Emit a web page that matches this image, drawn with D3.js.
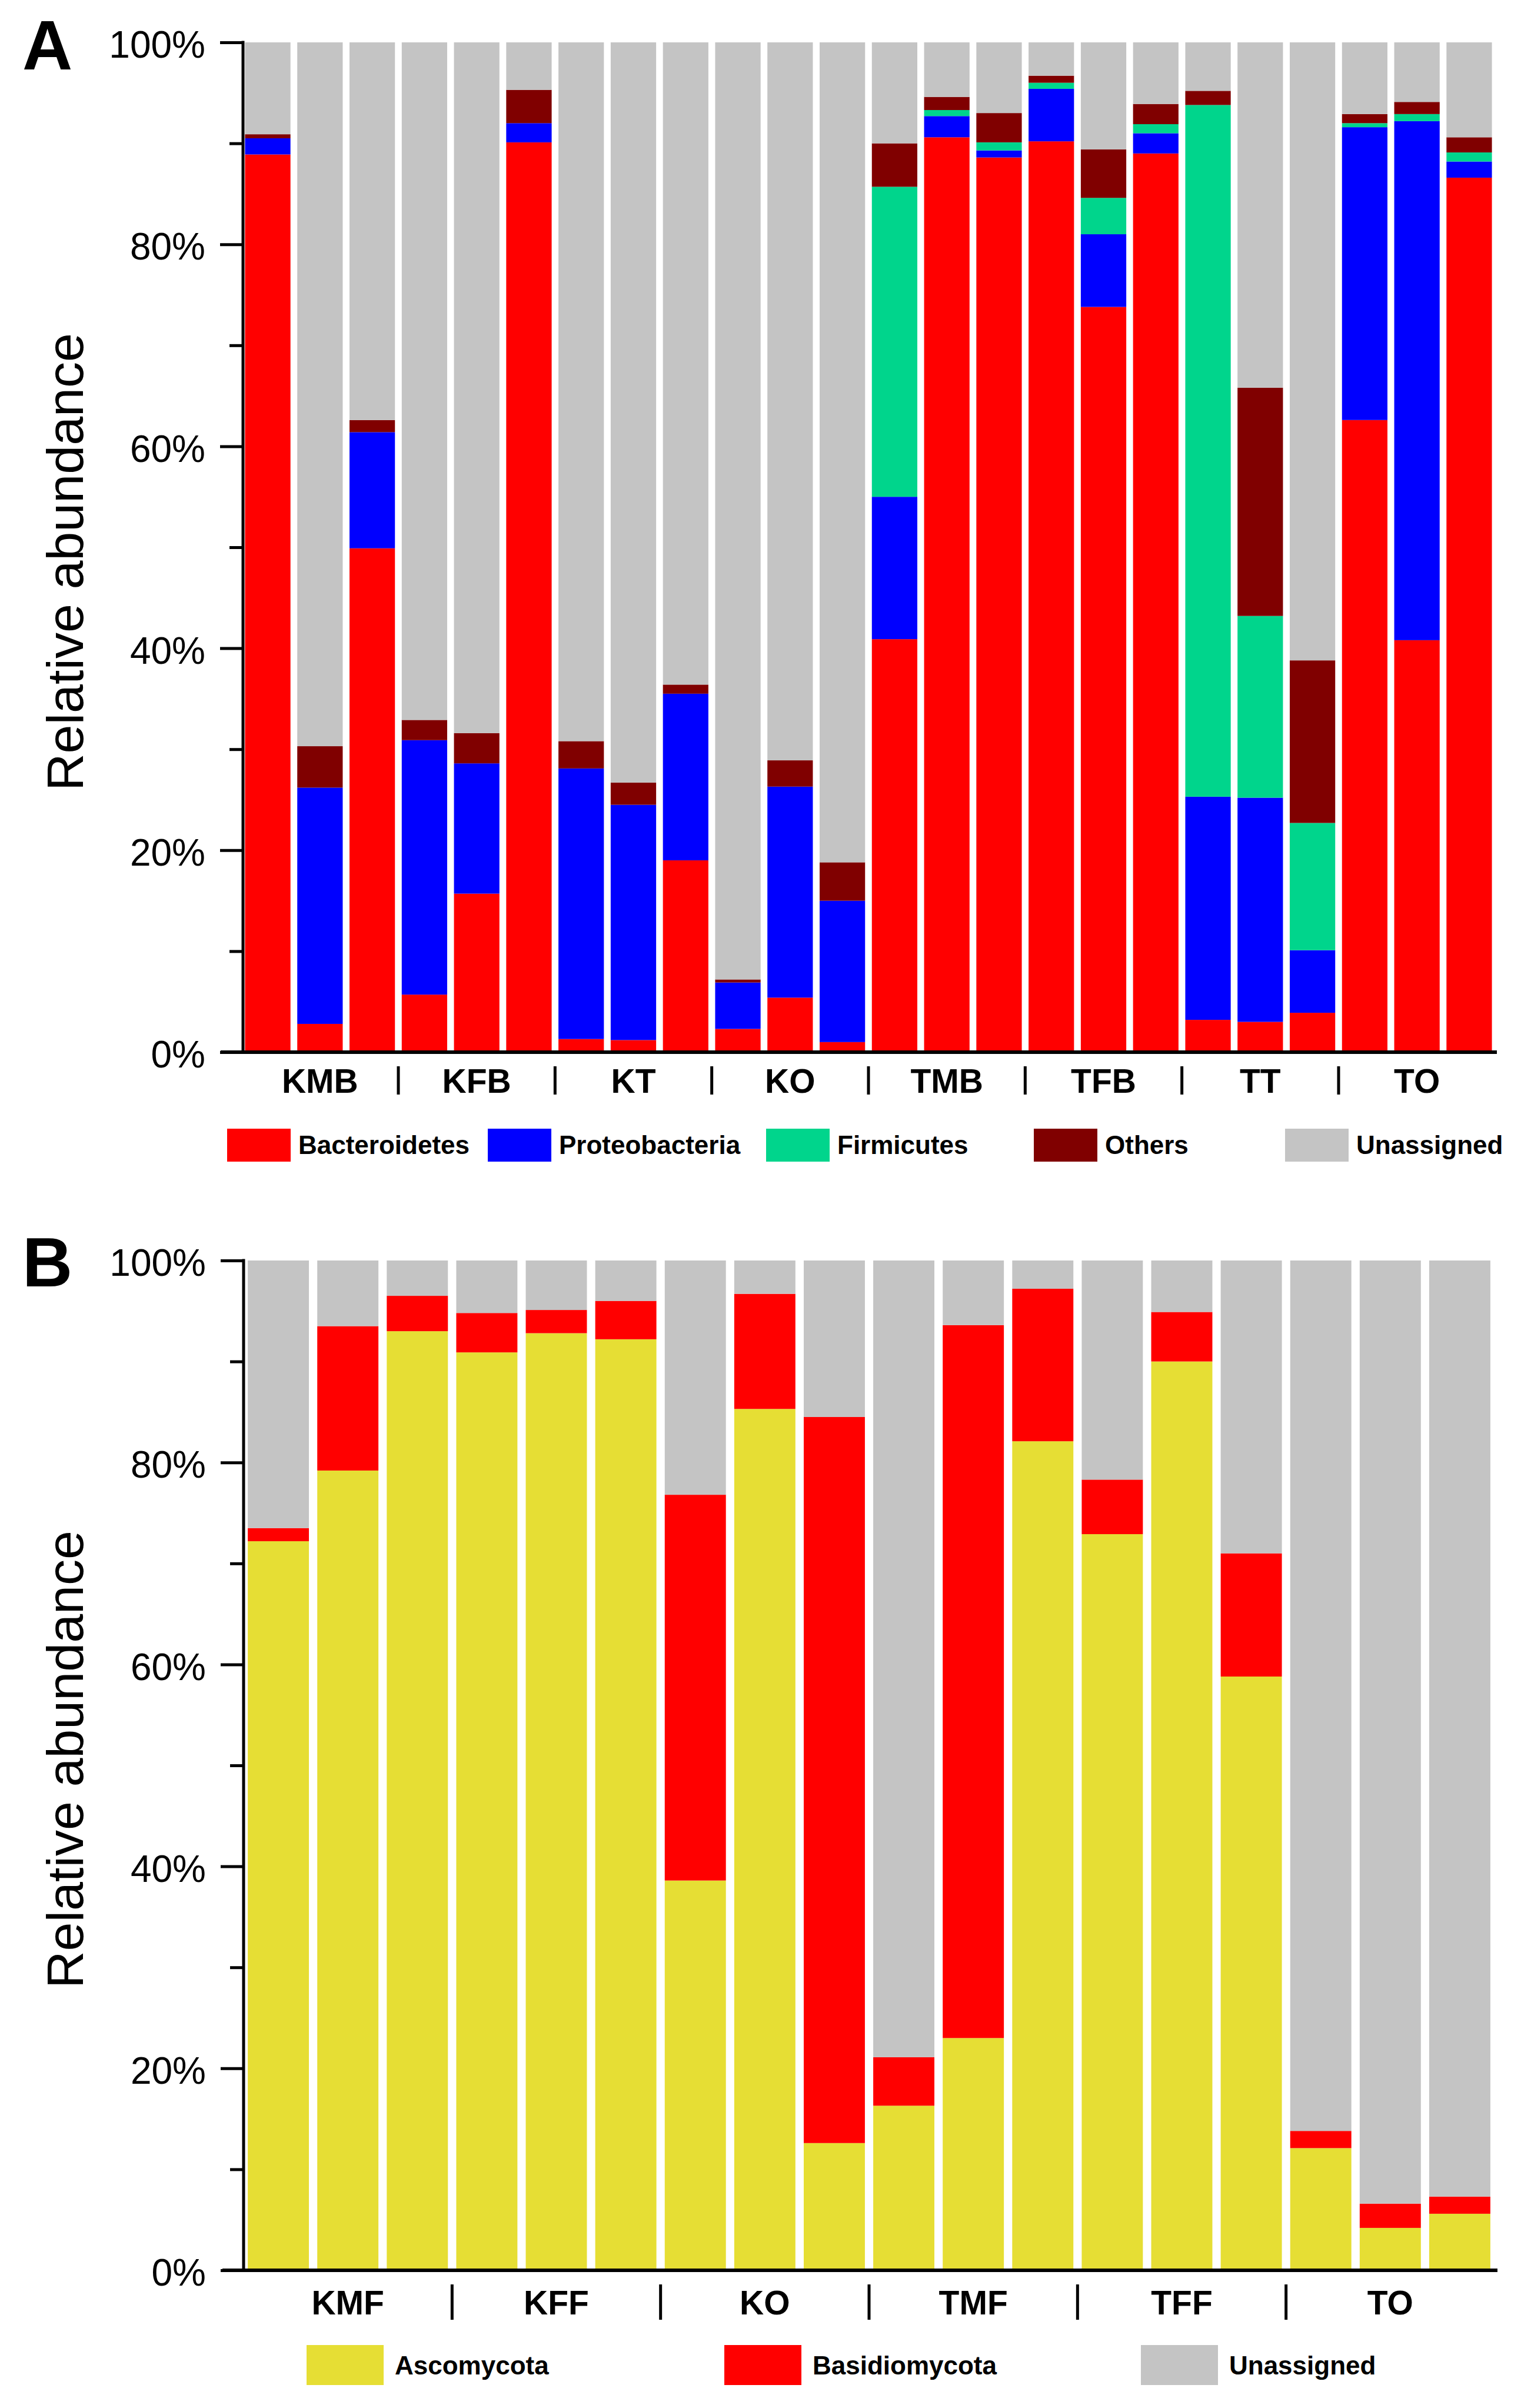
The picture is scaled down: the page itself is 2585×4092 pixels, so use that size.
<!DOCTYPE html>
<html><head><meta charset="utf-8">
<script src="https://cdn.jsdelivr.net/npm/d3@7"></script>
<style>body{margin:0;background:#fff}svg{display:block}</style>
</head><body>
<svg id="chart" width="2585" height="4092"></svg>
<script>
// ---------- Panel A (bacteria) ----------
const samplesA = ["KMB1","KMB2","KMB3","KFB1","KFB2","KFB3","KT1","KT2","KT3","KO1","KO2","KO3",
                  "TMB1","TMB2","TMB3","TFB1","TFB2","TFB3","TT1","TT2","TT3","TO1","TO2","TO3"];
const groupsA = ["KMB","KFB","KT","KO","TMB","TFB","TT","TO"];
const bacteroidetes  = [88.9, 2.8,49.9, 5.7,15.7,90.1, 1.3, 1.2,19.0, 2.3, 5.4, 1.0,40.9,90.6,88.6,90.2,73.8,89.0, 3.2, 3.0, 3.9,62.6,40.8,86.6];
const proteobacteria = [ 1.6,23.4,11.5,25.2,12.9, 1.9,26.8,23.3,16.5, 4.6,20.9,14.0,14.1, 2.1, 0.7, 5.2, 7.2, 2.0,22.1,22.2, 6.2,29.0,51.4, 1.6];
const firmicutes     = [ 0.0, 0.0, 0.0, 0.0, 0.0, 0.0, 0.0, 0.0, 0.0, 0.0, 0.0, 0.0,30.7, 0.6, 0.8, 0.6, 3.6, 0.9,68.5,18.0,12.6, 0.4, 0.7, 0.9];
const othersA        = [ 0.4, 4.1, 1.2, 2.0, 3.0, 3.3, 2.7, 2.2, 0.9, 0.3, 2.6, 3.8, 4.3, 1.3, 2.9, 0.7, 4.8, 2.0, 1.4,22.6,16.1, 0.9, 1.2, 1.5];
const unassignedA    = [ 9.1,69.7,37.4,67.1,68.4, 4.7,69.2,73.3,63.6,92.8,71.1,81.2,10.0, 5.4, 7.0, 3.3,10.6, 6.1, 4.8,34.2,61.2, 7.1, 5.9, 9.4];
const legendA = ["Bacteroidetes","Proteobacteria","Firmicutes","Others","Unassigned"];

// ---------- Panel B (fungi) ----------
const samplesB = ["KMF1","KMF2","KMF3","KFF1","KFF2","KFF3","KO1","KO2","KO3",
                  "TMF1","TMF2","TMF3","TFF1","TFF2","TFF3","TO1","TO2","TO3"];
const groupsB = ["KMF","KFF","KO","TMF","TFF","TO"];
const ascomycota    = [72.2,79.2,93.0,90.9,92.8,92.2,38.6,85.3,12.6,16.3,23.0,82.1,72.9,90.0,58.8,12.1, 4.2, 5.6];
const basidiomycota = [ 1.3,14.3, 3.5, 3.9, 2.3, 3.8,38.2,11.4,71.9, 4.8,70.6,15.1, 5.4, 4.9,12.2, 1.7, 2.4, 1.7];
const unassignedB   = [26.5, 6.5, 3.5, 5.2, 4.9, 4.0,23.2, 3.3,15.5,78.9, 6.4, 2.8,21.7, 5.1,29.0,86.2,93.4,92.7];
const legendB = ["Ascomycota","Basidiomycota","Unassigned"];

const yTicks = [0,20,40,60,80,100];
const yMinorTicks = [10,30,50,70,90];

// ---------- drawing ----------
const FONT = "'Liberation Sans', Arial, Helvetica, sans-serif";
const svg = d3.select("#chart");
svg.append("rect").attr("width",2585).attr("height",4092).attr("fill","#fff");

function drawPanel(cfg){
  const g = svg.append("g");
  const y = d3.scaleLinear().domain([0,100]).range([cfg.y0, cfg.y100]);
  const x = d3.scaleBand().domain(cfg.samples).range(cfg.xRange)
              .paddingInner(cfg.padIn).paddingOuter(cfg.padOut);
  const rows = cfg.samples.map((s,i)=>{
    const r = {sample:s};
    cfg.keys.forEach((k,j)=>{ r[k] = cfg.series[j][i]; });
    return r;
  });
  const stacked = d3.stack().keys(cfg.keys)(rows);
  g.selectAll("g.layer").data(stacked).join("g")
    .attr("class","layer")
    .attr("fill",(d,i)=>cfg.colors[i])
    .selectAll("rect").data(d=>d).join("rect")
      .attr("x",d=>x(d.data.sample))
      .attr("width",x.bandwidth())
      .attr("y",d=>y(Math.min(100,d[1])))
      .attr("height",d=>Math.max(0,y(d[0])-y(Math.min(100,d[1]))));

  // y axis: major ticks + labels
  const ax = g.append("g").attr("transform",`translate(${cfg.axisX},0)`)
    .call(d3.axisLeft(y).tickValues(yTicks).tickSize(39).tickSizeOuter(0)
          .tickPadding(25).tickFormat(d=>d+"%"));
  ax.select(".domain").remove();
  ax.selectAll(".tick line").attr("stroke","#000").attr("stroke-width",5);
  ax.selectAll(".tick text").attr("font-family",FONT).attr("font-size",64)
    .attr("fill","#000").attr("dy","0.40em");
  const mx = g.append("g").attr("transform",`translate(${cfg.axisX},0)`)
    .call(d3.axisLeft(y).tickValues(yMinorTicks).tickSize(23).tickSizeOuter(0).tickFormat(""));
  mx.select(".domain").remove();
  mx.selectAll(".tick line").attr("stroke","#000").attr("stroke-width",5);

  // axis lines
  g.append("line").attr("x1",cfg.axisX).attr("x2",cfg.axisX)
    .attr("y1",y(100)-2.5).attr("y2",y(0)).attr("stroke","#000").attr("stroke-width",5);
  g.append("line").attr("x1",cfg.xAxisStart).attr("x2",cfg.xAxisEnd)
    .attr("y1",y(0)).attr("y2",y(0)).attr("stroke","#000").attr("stroke-width",6);

  // y title
  g.append("text").attr("transform",`translate(${cfg.titleX},${cfg.titleY}) rotate(-90)`)
    .attr("text-anchor","middle").attr("font-family",FONT).attr("font-size",88)
    .attr("fill","#000").text("Relative abundance");

  // panel letter
  g.append("text").attr("x",38).attr("y",cfg.letterY).attr("font-family",FONT)
    .attr("font-weight","bold").attr("font-size",118).attr("fill","#000").text(cfg.letter);

  // group labels and separators
  const bw = x.bandwidth();
  cfg.groups.forEach((gr,i)=>{
    const mid = cfg.samples[i*3+1];
    g.append("text").attr("x",x(mid)+bw/2).attr("y",cfg.groupBaseline)
      .attr("text-anchor","middle").attr("font-family",FONT).attr("font-weight","bold")
      .attr("font-size",57).attr("fill","#000").text(gr);
    if(i < cfg.groups.length-1){
      const a = cfg.samples[i*3+2], b = cfg.samples[i*3+3];
      const sx = (x(a)+bw + x(b))/2;
      g.append("line").attr("x1",sx).attr("x2",sx)
        .attr("y1",cfg.sepY[0]).attr("y2",cfg.sepY[1])
        .attr("stroke","#000").attr("stroke-width",5);
    }
  });

  // legend
  const lg = g.append("g");
  cfg.legend.forEach((name,i)=>{
    const lx = cfg.legendX[i];
    lg.append("rect").attr("x",lx).attr("y",cfg.legendBox.y)
      .attr("width",cfg.legendBox.w).attr("height",cfg.legendBox.h).attr("fill",cfg.colors[i]);
    lg.append("text").attr("x",lx+cfg.legendBox.w+cfg.legendBox.gap).attr("y",cfg.legendBox.base)
      .attr("font-family",FONT).attr("font-weight","bold").attr("font-size",44)
      .attr("fill","#000").text(name);
  });
}

drawPanel({
  letter:"A", letterY:118,
  samples:samplesA, groups:groupsA,
  keys:["bac","pro","fir","oth","una"],
  series:[bacteroidetes,proteobacteria,firmicutes,othersA,unassignedA],
  colors:["#FF0000","#0000FF","#00D58C","#800000","#C4C4C4"],
  y0:1788, y100:72,
  xRange:[412,2540], padIn:0.13, padOut:0.05,
  axisX:413, xAxisStart:375, xAxisEnd:2544,
  titleX:141, titleY:955,
  groupBaseline:1857, sepY:[1812,1860],
  legend:legendA, legendX:[386,829,1302,1757,2184],
  legendBox:{y:1918,w:108,h:56,gap:13,base:1961}
});

drawPanel({
  letter:"B", letterY:2186,
  samples:samplesB, groups:groupsB,
  keys:["asc","bas","una"],
  series:[ascomycota,basidiomycota,unassignedB],
  colors:["#E6DE34","#FF0000","#C4C4C4"],
  y0:3858, y100:2142,
  xRange:[414,2540], padIn:0.12, padOut:0.06,
  axisX:414, xAxisStart:378, xAxisEnd:2545,
  titleX:141, titleY:2990,
  groupBaseline:3933, sepY:[3882,3942],
  legend:legendB, legendX:[521,1231,1939],
  legendBox:{y:3985,w:131,h:68,gap:19,base:4035}
});
</script>
</body></html>
